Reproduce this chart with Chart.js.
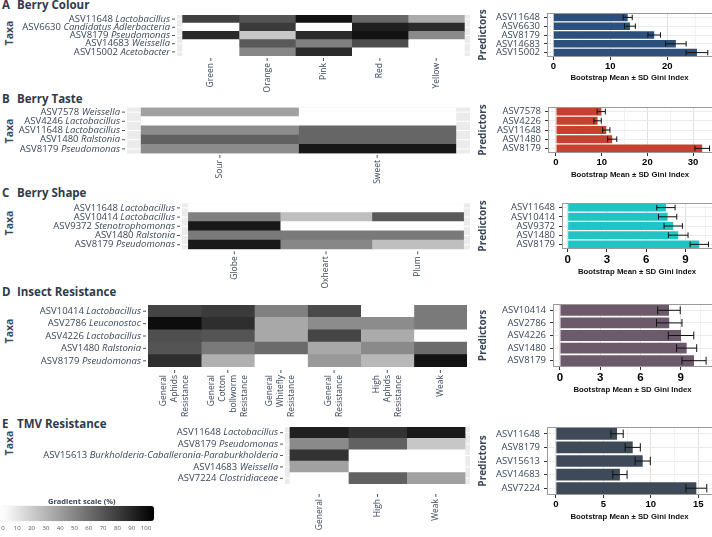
<!DOCTYPE html>
<html>
<head>
<meta charset="utf-8">
<title>Taxa heatmaps and Gini importance</title>
<script src="https://cdn.jsdelivr.net/npm/chart.js@4.4.1/dist/chart.umd.min.js"></script>
<style>
  body { margin: 0; background: #fff; }
  #wrap { position: relative; width: 712px; height: 537px; overflow: hidden; font-family: "Open Sans", sans-serif; color: #3a4759; }
  #wrap canvas { position: absolute; left: 0; top: 0; }
  .letter, .title { position: absolute; font-size: 11.5px; font-weight: 700; color: #2e3b4c; line-height: 12px; white-space: nowrap; }
  .letter { left: 2px; }
  .title { left: 17px; }
  .taxa { position: absolute; left: 8.5px; font-size: 10.5px; font-weight: 700; line-height: 12px; color: #3a4759;
          transform: translate(-50%, -50%) rotate(-90deg); white-space: nowrap; }
  #gradTitle { position: absolute; left: 48px; top: 496px; font-size: 7.5px; font-weight: 700; line-height: 10px; color: #3a4759; }
  #gradBar { position: absolute; left: 2px; top: 506px; width: 152px; height: 15px; border-radius: 3px;
             background: linear-gradient(to right, #ffffff, #000000); box-shadow: 0 0 1px #bbb; }
  #gradTicks span { position: absolute; top: 524px; font-size: 6px; line-height: 8px; color: #555; transform: translateX(-50%); }
</style>
</head>
<body>
<div id="wrap">
  <div class="letter" style="top:-1px">A</div><div class="title" style="top:-1px">Berry Colour</div>
  <div class="letter" style="top:93px">B</div><div class="title" style="top:93px">Berry Taste</div>
  <div class="letter" style="top:187px">C</div><div class="title" style="top:187px">Berry Shape</div>
  <div class="letter" style="top:286px">D</div><div class="title" style="top:286px">Insect Resistance</div>
  <div class="letter" style="top:418px">E</div><div class="title" style="top:418px">TMV Resistance</div>
  <div class="taxa" style="top:33px">Taxa</div>
  <div class="taxa" style="top:131px">Taxa</div>
  <div class="taxa" style="top:223px">Taxa</div>
  <div class="taxa" style="top:331px">Taxa</div>
  <div class="taxa" style="top:443px">Taxa</div>

  <canvas id="heatColour" width="712" height="537"></canvas>
  <canvas id="heatTaste" width="712" height="537"></canvas>
  <canvas id="heatShape" width="712" height="537"></canvas>
  <canvas id="heatInsect" width="712" height="537"></canvas>
  <canvas id="heatTmv" width="712" height="537"></canvas>
  <canvas id="giniColour" width="712" height="537"></canvas>
  <canvas id="giniTaste" width="712" height="537"></canvas>
  <canvas id="giniShape" width="712" height="537"></canvas>
  <canvas id="giniInsect" width="712" height="537"></canvas>
  <canvas id="giniTmv" width="712" height="537"></canvas>

  <div id="gradTitle">Gradient scale (%)</div>
  <div id="gradBar"></div>
  <div id="gradTicks"></div>
</div>

<script>
const W = 712;
const H = 537;
const TEXT = "#3a4759";

// A - berry colour
const colourCols = ["Green", "Orange", "Pink", "Red", "Yellow"];
const colourTaxa = ["ASV11648", "ASV6630", "ASV8179", "ASV14683", "ASV15002"];
const colourGenus = ["Lactobacillus", "Candidatus Adlerbacteria", "Pseudomonas", "Weissella", "Acetobacter"];
const colourHeat = [
  [75, 67, 93, 60, 33],
  [0, 77, 0, 88, 83],
  [84, 22, 83, 92, 46],
  [0, 65, 50, 70, 0],
  [0, 47, 83, 0, 0],
];
const colourIds = ["ASV11648", "ASV6630", "ASV8179", "ASV14683", "ASV15002"];
const colourGini = [13.05, 13.45, 17.7, 21.5, 25.2];
const colourSd = [0.8, 0.95, 1.1, 1.8, 1.9];

// B - berry taste
const tasteCols = ["Sour", "Sweet"];
const tasteTaxa = ["ASV7578", "ASV4246", "ASV11648", "ASV1480", "ASV8179"];
const tasteGenus = ["Weissella", "Lactobacillus", "Lactobacillus", "Ralstonia", "Pseudomonas"];
const tasteHeat = [
  [37, 0],
  [0, 0],
  [45, 60],
  [62, 60],
  [45, 91],
];
const tasteIds = ["ASV7578", "ASV4226", "ASV11648", "ASV1480", "ASV8179"];
const tasteGini = [9.9, 9.1, 11.0, 12.3, 32.0];
const tasteSd = [0.9, 0.8, 0.8, 1.0, 1.6];

// C - berry shape
const shapeCols = ["Globe", "Oxheart", "Plum"];
const shapeTaxa = ["ASV11648", "ASV10414", "ASV9372", "ASV1480", "ASV8179"];
const shapeGenus = ["Lactobacillus", "Lactobacillus", "Stenotrophomonas", "Ralstonia", "Pseudomonas"];
const shapeHeat = [
  [0, 0, 0],
  [50, 25, 65],
  [90, 0, 0],
  [52, 52, 52],
  [90, 47, 25],
];
const shapeIds = ["ASV11648", "ASV10414", "ASV9372", "ASV1480", "ASV8179"];
const shapeGini = [7.5, 7.63, 8.06, 8.44, 10.05];
const shapeSd = [0.7, 0.7, 0.7, 0.75, 0.7];

// D - insect resistance
const insectCols = [
  ["General", "Aphids", "Resistance"],
  ["General", "Cotton", "bollworm", "Resistance"],
  ["General", "Whitefly", "Resistance"],
  ["General", "Resistance"],
  ["High", "Aphids", "Resistance"],
  ["Weak"],
];
const insectTaxa = ["ASV10414", "ASV2786", "ASV4226", "ASV1480", "ASV8179"];
const insectGenus = ["Lactobacillus", "Leuconostoc", "Lactobacillus", "Ralstonia", "Pseudomonas"];
const insectHeat = [
  [73, 77, 50, 71, 0, 52],
  [95, 82, 34, 45, 45, 52],
  [69, 67, 34, 73, 33, 0],
  [67, 52, 58, 34, 46, 58],
  [82, 31, 0, 40, 28, 93],
];
const insectIds = ["ASV10414", "ASV2786", "ASV4226", "ASV1480", "ASV8179"];
const insectGini = [8.13, 8.15, 9.03, 9.45, 10.0];
const insectSd = [0.84, 0.95, 0.95, 0.75, 0.9];

// E - TMV resistance
const tmvCols = ["General", "High", "Weak"];
const tmvTaxa = ["ASV11648", "ASV8179", "ASV15613", "ASV14683", "ASV7224"];
const tmvGenus = ["Lactobacillus", "Pseudomonas", "Burkholderia-Caballeronia-Paraburkholderia", "Weissella", "Clostridiaceae"];
const tmvHeat = [
  [88, 80, 90],
  [46, 62, 22],
  [80, 0, 0],
  [37, 0, 0],
  [0, 62, 37],
];
const tmvIds = ["ASV11648", "ASV8179", "ASV15613", "ASV14683", "ASV7224"];
const tmvGini = [6.45, 8.1, 9.15, 6.75, 14.8];
const tmvSd = [0.65, 0.8, 0.8, 0.75, 1.1];

const gradTicks = [0, 10, 20, 30, 40, 50, 60, 70, 80, 90, 100];

function grey(v) {
  const g = Math.round(255 * (1 - v / 100));
  return `rgb(${g},${g},${g})`;
}

// grey panel, taxa labels (id + italic genus) and rotated column labels
const heatDecor = {
  id: "heatDecor",
  beforeDatasetsDraw(chart, args, o) {
    const { ctx, chartArea: a, scales } = chart;
    ctx.save();
    ctx.fillStyle = "#ebebeb";
    ctx.fillRect(a.left, a.top, a.width, a.height);
    ctx.strokeStyle = "#fff";
    ctx.lineWidth = 1;
    ctx.beginPath();
    o.taxa.forEach((t, i) => {
      const y = scales.y.getPixelForValue(i);
      ctx.moveTo(a.left, y);
      ctx.lineTo(a.right, y);
    });
    ctx.stroke();
    ctx.restore();
  },
  afterDraw(chart, args, o) {
    const { ctx, chartArea: a, scales } = chart;
    const plain = '9.5px "Open Sans"';
    const italic = 'italic 9.5px "Open Sans"';
    ctx.save();
    ctx.fillStyle = TEXT;
    ctx.strokeStyle = "#555";
    ctx.lineWidth = 1;
    ctx.textBaseline = "middle";
    ctx.textAlign = "left";
    o.taxa.forEach((id, i) => {
      const y = scales.y.getPixelForValue(i);
      ctx.beginPath();
      ctx.moveTo(a.left - 5, y);
      ctx.lineTo(a.left - 2, y);
      ctx.stroke();
      ctx.font = plain;
      const w1 = ctx.measureText(id + " ").width;
      ctx.font = italic;
      const w2 = ctx.measureText(o.genus[i]).width;
      const right = a.left - 7;
      ctx.font = plain;
      ctx.fillText(id + " ", right - w1 - w2, y);
      ctx.font = italic;
      ctx.fillText(o.genus[i], right - w2, y);
    });
    ctx.font = '8.5px "Open Sans"';
    ctx.textAlign = "right";
    o.cols.forEach((c, j) => {
      const lines = Array.isArray(c) ? c : [c];
      const x = scales.x.getPixelForValue(j + 0.5);
      const y0 = a.bottom + o.gap;
      ctx.beginPath();
      ctx.moveTo(x, y0 - 5);
      ctx.lineTo(x, y0 - 2);
      ctx.stroke();
      lines.forEach((s, k) => {
        const lx = x + (k - (lines.length - 1) / 2) * 11;
        ctx.save();
        ctx.translate(lx, y0);
        ctx.rotate(-Math.PI / 2);
        ctx.fillText(s, 0, 0);
        ctx.restore();
      });
    });
    ctx.restore();
  },
};

function drawHeatmap(canvasId, cols, taxa, genus, values, box) {
  const datasets = cols.map((c, j) => ({
    data: taxa.map(() => [j, j + 1]),
    backgroundColor: values.map((row) => grey(row[j])),
    borderWidth: 0,
    grouped: false,
    barPercentage: 1,
    categoryPercentage: 1,
  }));

  new Chart(document.getElementById(canvasId), {
    type: "bar",
    data: { labels: taxa, datasets: datasets },
    options: {
      indexAxis: "y",
      responsive: false,
      animation: false,
      devicePixelRatio: 1,
      events: [],
      layout: { padding: { left: box.l, right: W - box.r, top: box.t, bottom: H - box.b } },
      plugins: {
        legend: { display: false },
        tooltip: { enabled: false },
        heatDecor: { taxa: taxa, genus: genus, cols: cols, gap: box.gap },
      },
      scales: {
        x: { type: "linear", display: false, min: -box.pad, max: cols.length + box.pad },
        y: { display: false },
      },
    },
    plugins: [heatDecor],
  });
}

// error bars and the panel frame of the importance plots
const giniDecor = {
  id: "giniDecor",
  afterDatasetsDraw(chart, args, o) {
    const { ctx } = chart;
    const xs = chart.scales.x;
    const values = chart.data.datasets[0].data;
    ctx.save();
    ctx.strokeStyle = "#111";
    ctx.lineWidth = 1;
    chart.getDatasetMeta(0).data.forEach((bar, i) => {
      const x1 = xs.getPixelForValue(values[i] - o.sd[i]);
      const x2 = xs.getPixelForValue(values[i] + o.sd[i]);
      const h = bar.height * 0.36;
      ctx.beginPath();
      ctx.moveTo(x1, bar.y);
      ctx.lineTo(x2, bar.y);
      ctx.moveTo(x1, bar.y - h);
      ctx.lineTo(x1, bar.y + h);
      ctx.moveTo(x2, bar.y - h);
      ctx.lineTo(x2, bar.y + h);
      ctx.stroke();
    });
    ctx.restore();
  },
  afterDraw(chart) {
    const { ctx, chartArea: a } = chart;
    ctx.save();
    ctx.strokeStyle = "#9a9a9a";
    ctx.lineWidth = 1;
    ctx.strokeRect(a.left + 0.5, a.top + 0.5, a.width, a.height - 1);
    ctx.restore();
  },
};

function drawGini(canvasId, ids, gini, sd, colour, box) {
  const isMajor = (v) => Math.abs(v / box.step - Math.round(v / box.step)) < 1e-6;

  new Chart(document.getElementById(canvasId), {
    type: "bar",
    data: {
      labels: ids,
      datasets: [{ data: gini, backgroundColor: colour, barPercentage: 0.86, categoryPercentage: 1 }],
    },
    options: {
      indexAxis: "y",
      responsive: false,
      animation: false,
      devicePixelRatio: 1,
      events: [],
      layout: { padding: { left: 477, right: 0, top: box.t, bottom: H - box.b - box.axisH } },
      plugins: { legend: { display: false }, tooltip: { enabled: false }, giniDecor: { sd: sd } },
      scales: {
        x: {
          type: "linear",
          min: box.min,
          max: box.max,
          afterFit: (s) => { s.height = box.axisH; },
          afterBuildTicks: (s) => {
            const t = [];
            for (let v = 0; v <= box.max + 1e-9; v += box.step / 2) t.push({ value: v });
            s.ticks = t;
          },
          ticks: {
            autoSkip: false,
            maxRotation: 0,
            padding: 1,
            color: "#000",
            font: { family: "Liberation Sans", weight: "bold", size: box.tickSize },
            callback: (v) => (isMajor(v) ? v : ""),
          },
          grid: {
            color: (c) => (c.tick && isMajor(c.tick.value) ? "#e0e0e0" : "#f2f2f2"),
            tickColor: (c) => (c.tick && isMajor(c.tick.value) ? "#333" : "rgba(0,0,0,0)"),
            tickLength: 3,
          },
          border: { display: false },
          title: {
            display: true,
            text: "Bootstrap Mean ± SD Gini Index",
            color: "#111",
            font: { family: "Liberation Sans", weight: "bold", size: 7.8 },
            padding: 0,
          },
        },
        y: {
          afterFit: (s) => { s.width = box.l - 477; },
          ticks: { autoSkip: false, color: TEXT, font: { family: "Open Sans", size: 9.5 }, padding: 4 },
          grid: { offset: false, color: "#ebebeb", tickColor: "#333", tickLength: 3 },
          border: { display: false },
          title: {
            display: true,
            text: "Predictors",
            color: TEXT,
            font: { family: "Open Sans", weight: "bold", size: 10 },
            padding: 0,
          },
        },
      },
    },
    plugins: [giniDecor],
  });
}

drawHeatmap("heatColour", colourCols, colourTaxa, colourGenus, colourHeat, { l: 177, r: 470, t: 15, b: 56, pad: 0.1, gap: 7 });
drawHeatmap("heatTaste", tasteCols, tasteTaxa, tasteGenus, tasteHeat, { l: 127, r: 470, t: 107.5, b: 153.5, pad: 0.09, gap: 6.5 });
drawHeatmap("heatShape", shapeCols, shapeTaxa, shapeGenus, shapeHeat, { l: 182, r: 470, t: 203.3, b: 249.3, pad: 0.07, gap: 7 });
drawHeatmap("heatInsect", insectCols, insectTaxa, insectGenus, insectHeat, { l: 148, r: 467, t: 305, b: 367, pad: 0, gap: 8 });
drawHeatmap("heatTmv", tmvCols, tmvTaxa, tmvGenus, tmvHeat, { l: 285, r: 470, t: 427, b: 484, pad: 0.085, gap: 15 });

drawGini("giniColour", colourIds, colourGini, colourSd, "#2c4f7b", { l: 547, t: 13, b: 57, min: -1.1, max: 27.84, step: 10, tickSize: 9.5, axisH: 25.7 });
drawGini("giniTaste", tasteIds, tasteGini, tasteSd, "#c4422f", { l: 548, t: 107, b: 153, min: -1.75, max: 34.14, step: 10, tickSize: 9.5, axisH: 26.7 });
drawGini("giniShape", shapeIds, shapeGini, shapeSd, "#1fc4c4", { l: 562, t: 203, b: 249, min: -0.435, max: 11.02, step: 3, tickSize: 11.5, axisH: 27.7 });
drawGini("giniInsect", insectIds, insectGini, insectSd, "#6c5a6b", { l: 553, t: 304, b: 367, min: -0.52, max: 11.34, step: 3, tickSize: 11.5, axisH: 27.7 });
drawGini("giniTmv", tmvIds, tmvGini, tmvSd, "#3e4a58", { l: 547, t: 427, b: 495, min: -0.93, max: 16.45, step: 5, tickSize: 9.5, axisH: 26.7 });

// gradient legend labels
const tickBox = document.getElementById("gradTicks");
gradTicks.forEach((v) => {
  const s = document.createElement("span");
  s.textContent = v;
  s.style.left = (3 + v * 1.43) + "px";
  tickBox.appendChild(s);
});
</script>
</body>
</html>
